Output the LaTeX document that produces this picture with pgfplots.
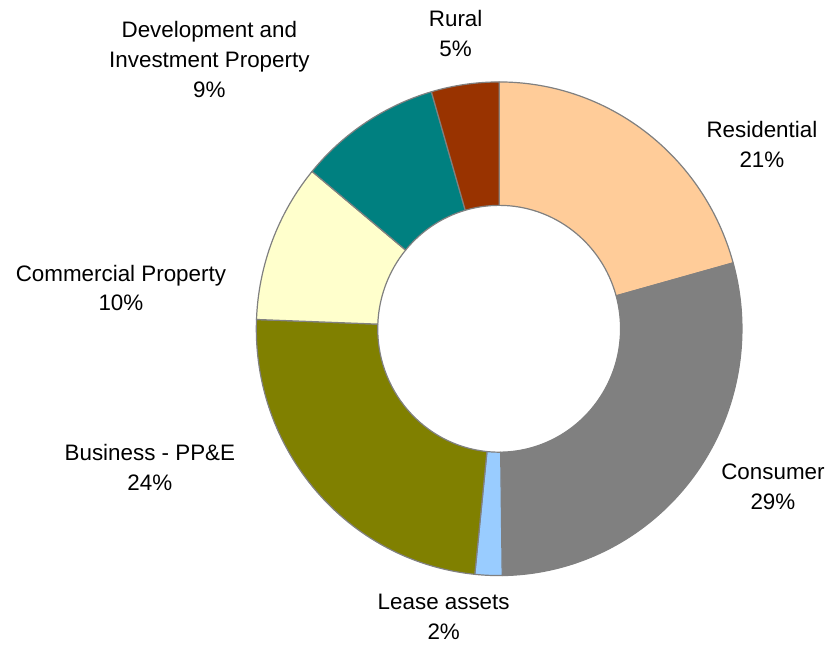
\documentclass[border=0pt]{standalone}
\usepackage{pgfplots}
\pgfplotsset{compat=1.18}
\usepackage{fontspec}
\setmainfont{Liberation Sans}
\definecolor{cRes}{HTML}{FFCC99}
\definecolor{cCon}{HTML}{808080}
\definecolor{cLea}{HTML}{99CCFF}
\definecolor{cBus}{HTML}{808000}
\definecolor{cCom}{HTML}{FFFFCC}
\definecolor{cDev}{HTML}{008080}
\definecolor{cRur}{HTML}{993300}
\definecolor{edgegray}{HTML}{808080}
\newcommand{\lbl}{\fontsize{16.8}{20}\selectfont}
% donut geometry (axis units = pixels, 1 px = 0.75pt)
\def\cx{499.5}\def\cy{329}
\def\Rx{182.25pt}\def\Ry{185.25pt}
\def\rx{91.125pt}\def\ry{92.625pt}
\gdef\cumul{0}
\newcommand{\donutslice}[2]{%
  \pgfmathsetmacro{\sA}{90-3.6*\cumul}%
  \pgfmathsetmacro{\newcum}{\cumul+#1}%
  \pgfmathsetmacro{\sB}{90-3.6*\newcum}%
  \xdef\cumul{\newcum}%
  \edef\temp{\noexpand\filldraw[fill=#2,draw=edgegray,line width=0.9pt,line join=round]
    ([shift={(axis cs:\cx,\cy)}]\sA:\Rx\space and \Ry)
    arc[start angle=\sA,end angle=\sB,x radius=\Rx,y radius=\Ry]
    -- ([shift={(axis cs:\cx,\cy)}]\sB:\rx\space and \ry)
    arc[start angle=\sB,end angle=\sA,x radius=\rx,y radius=\ry] -- cycle;}%
  \temp}
\begin{document}
\begin{tikzpicture}
\begin{axis}[
  width=621.75pt, height=483pt, scale only axis,
  xmin=0, xmax=829, ymin=0, ymax=644, y dir=reverse,
  hide axis, clip=false]
\path (axis cs:0,0) rectangle (axis cs:829,644);
% values in percent, clockwise from 12 o'clock
\donutslice{20.7}{cRes}% Residential
\donutslice{29.1}{cCon}% Consumer
\donutslice{1.8}{cLea}%  Lease assets
\donutslice{24.0}{cBus}% Business - PP&E
\donutslice{10.4}{cCom}% Commercial Property
\donutslice{9.5}{cDev}%  Development and Investment Property
\donutslice{4.5}{cRur}%  Rural
% labels
\node[anchor=base,font=\lbl] at (axis cs:456,27) {Rural};
\node[anchor=base,font=\lbl] at (axis cs:456,57) {5\%};
\node[anchor=base,font=\lbl] at (axis cs:209.5,38) {Development and};
\node[anchor=base,font=\lbl] at (axis cs:209.5,68) {Investment Property};
\node[anchor=base,font=\lbl] at (axis cs:209.5,98) {9\%};
\node[anchor=base,font=\lbl] at (axis cs:762.5,138) {Residential};
\node[anchor=base,font=\lbl] at (axis cs:762.5,168) {21\%};
\node[anchor=base,font=\lbl] at (axis cs:121,282) {Commercial Property};
\node[anchor=base,font=\lbl] at (axis cs:121,311) {10\%};
\node[anchor=base,font=\lbl] at (axis cs:150,461) {Business - PP\&E};
\node[anchor=base,font=\lbl] at (axis cs:150,491) {24\%};
\node[anchor=base,font=\lbl] at (axis cs:773.5,480) {Consumer};
\node[anchor=base,font=\lbl] at (axis cs:773.5,510) {29\%};
\node[anchor=base,font=\lbl] at (axis cs:444,610) {Lease assets};
\node[anchor=base,font=\lbl] at (axis cs:444,640) {2\%};
\end{axis}
\end{tikzpicture}
\end{document}
